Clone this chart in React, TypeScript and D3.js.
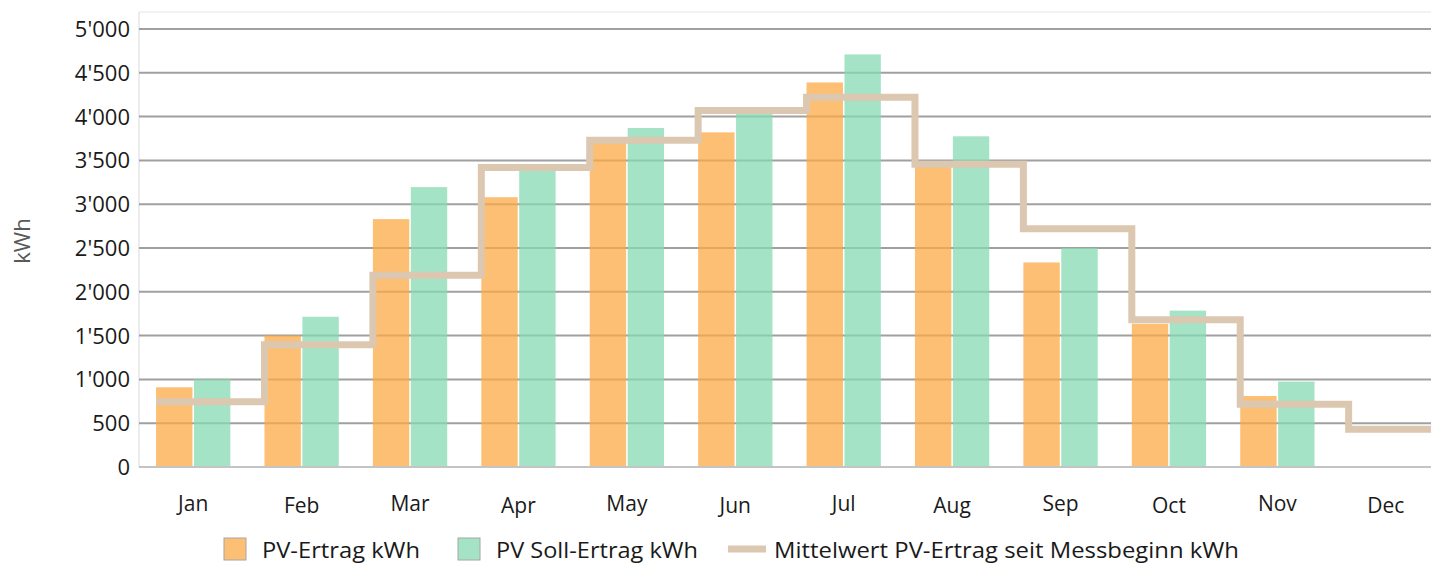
import React from "react";
import * as d3 from "d3";

const months = ["Jan", "Feb", "Mar", "Apr", "May", "Jun", "Jul", "Aug", "Sep", "Oct", "Nov", "Dec"];
const pvErtrag = [910, 1500, 2830, 3080, 3700, 3820, 4390, 3430, 2335, 1635, 810, 0];
const pvSoll = [1000, 1715, 3195, 3380, 3870, 4050, 4710, 3775, 2500, 1785, 975, 0];
const mittelwert = [745, 1395, 2190, 3420, 3730, 4070, 4220, 3455, 2720, 1680, 715, 430];
const yTicks = [0, 500, 1000, 1500, 2000, 2500, 3000, 3500, 4000, 4500, 5000];
const seriesNames = ["PV-Ertrag kWh", "PV Soll-Ertrag kWh"];
const lineName = "Mittelwert PV-Ertrag seit Messbeginn kWh";

const W = 1431;
const H = 563;
const left = 139;
const right = 1440;
const top = 12;
const yTop = 29;
const bottom = 467;

const fmt = (v: number) => {
  const s = String(v);
  return s.length > 3 ? s.slice(0, s.length - 3) + "'" + s.slice(-3) : s;
};

export default function App() {
  const x = d3.scaleBand<string>().domain(months).range([left, right]).padding(0);
  const inner = d3
    .scaleBand<string>()
    .domain(seriesNames)
    .range([0, x.bandwidth()])
    .paddingInner(0.04)
    .paddingOuter(0.45);
  const y = d3.scaleLinear().domain([0, 5000]).range([bottom, yTop]);

  const colors = ["#FCAA46", "#86DAB2"];
  const values = [pvErtrag, pvSoll];
  const groupStart = (m: string) => (x(m) as number) + (inner(seriesNames[0]) as number);

  const pts: [number, number][] = months.map((m, i) => [groupStart(m), y(mittelwert[i])]);
  pts.push([groupStart(months[11]) + x.bandwidth(), y(mittelwert[11])]);
  const line = d3.line().curve(d3.curveStepAfter)(pts) as string;

  const font = "'Open Sans', sans-serif";

  return (
    <svg width={W} height={H} style={{ position: "absolute", left: 0, top: 0, display: "block" }}>
      <rect x={0} y={0} width={W} height={H} fill="#fff" />
      {/* frame */}
      <line x1={left} x2={W} y1={top} y2={top} stroke="#E6E6E6" strokeWidth={1} />
      <line x1={left} x2={left} y1={top} y2={bottom} stroke="#D9D9D9" strokeWidth={1} />
      {/* gridlines */}
      {yTicks.filter((t) => t > 0).map((t) => (
        <line key={t} x1={left} x2={W} y1={y(t)} y2={y(t)} stroke="#A0A0A0" strokeWidth={2} />
      ))}
      {/* bars */}
      {values.map((vals, si) =>
        months.map((m, i) =>
          vals[i] > 0 ? (
            <rect
              key={si + "-" + m}
              x={(x(m) as number) + (inner(seriesNames[si]) as number)}
              y={y(vals[i])}
              width={inner.bandwidth()}
              height={y(0) - y(vals[i])}
              fill={colors[si]}
              fillOpacity={0.75}
            />
          ) : null
        )
      )}
      {/* axis line */}
      <line x1={left} x2={W} y1={bottom} y2={bottom} stroke="#C4C4C4" strokeWidth={2} />
      {/* mean step line */}
      <path d={line} fill="none" stroke="#DCC7B1" strokeWidth={7} />
      {/* y tick labels */}
      {yTicks.map((t) => (
        <text key={t} x={130} y={y(t)} dy="0.36em" textAnchor="end" fontFamily={font} fontSize={22} fill="#1a1a1a">
          {fmt(t)}
        </text>
      ))}
      <text
        transform={`translate(30,241) rotate(-90)`}
        textAnchor="middle"
        fontFamily={font}
        fontSize={22}
        fill="#595959"
      >
        kWh
      </text>
      {/* x labels */}
      {months.map((m, i) => (
        <text
          key={m}
          x={(x(m) as number) + x.bandwidth() / 2}
          y={511 + (i % 2 === 1 ? 2 : 0)}
          textAnchor="middle"
          fontFamily={font}
          fontSize={21}
          fill="#1a1a1a"
        >
          {m}
        </text>
      ))}
      {/* legend */}
      <rect x={224} y={538} width={22} height={22} fill="#FDBF74" stroke="#A6A6A6" strokeWidth={1} />
      <text x={262} y={558} fontFamily={font} fontSize={22} fill="#1a1a1a" textLength={158} lengthAdjust="spacingAndGlyphs">
        {seriesNames[0]}
      </text>
      <rect x={458} y={538} width={22} height={22} fill="#A4E3C5" stroke="#A6A6A6" strokeWidth={1} />
      <text x={496} y={558} fontFamily={font} fontSize={22} fill="#1a1a1a" textLength={202} lengthAdjust="spacingAndGlyphs">
        {seriesNames[1]}
      </text>
      <line x1={728} x2={766} y1={549} y2={549} stroke="#DCC7B1" strokeWidth={7} />
      <text x={774} y={558} fontFamily={font} fontSize={22} fill="#1a1a1a" textLength={465} lengthAdjust="spacingAndGlyphs">
        {lineName}
      </text>
    </svg>
  );
}
